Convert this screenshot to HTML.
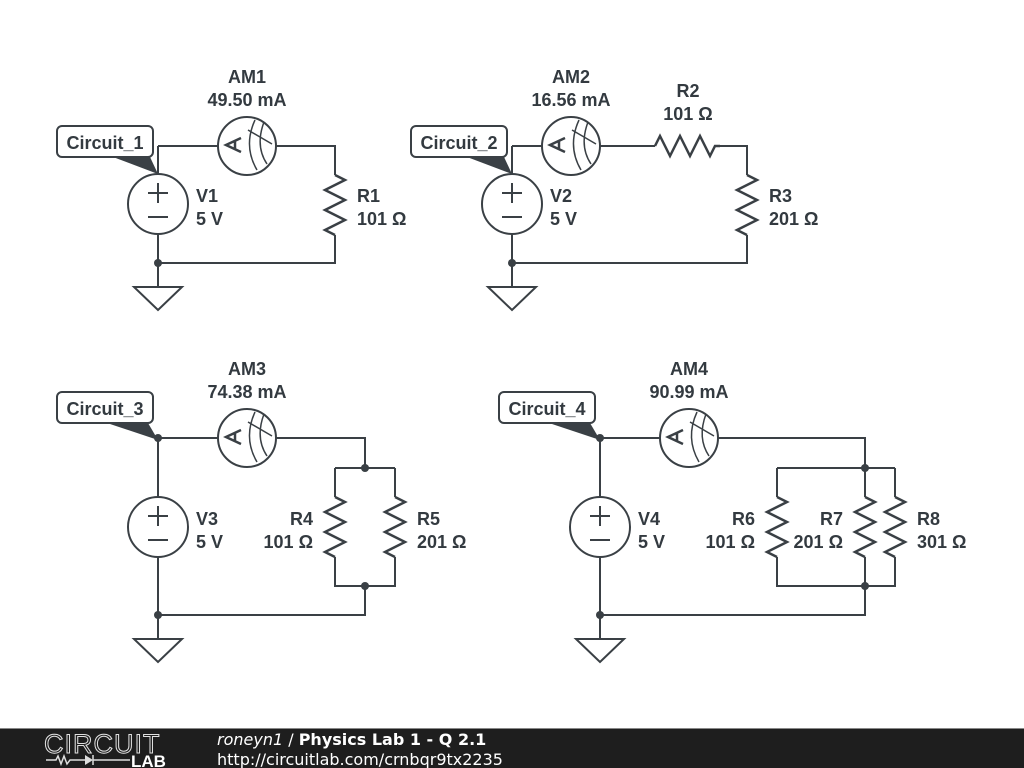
<!DOCTYPE html>
<html><head><meta charset="utf-8"><style>
html,body{margin:0;padding:0;background:#fff;}
svg{display:block;}
text{font-family:"Liberation Sans",Arial,sans-serif;font-weight:bold;font-size:18px;fill:#333a40;}
text.ft{font-family:"DejaVu Sans",sans-serif;font-size:15px;font-weight:normal;fill:#fff;}
</style></head><body>
<svg width="1024" height="768" viewBox="0 0 1024 768" xmlns="http://www.w3.org/2000/svg">
<defs>
<g id="am">
<circle cx="0" cy="0" r="29" fill="#fff" stroke="#3a4045" stroke-width="2"/>
<path d="M-6,-8 L-21,-1 L-6,6 M-12,-5 L-12,3" fill="none" stroke="#3a4045" stroke-width="2.5"/>
<path d="M8,-26 Q-4,0 10,24 M17,-24 Q8,0 20,18 M1,-16 L25,-2" fill="none" stroke="#3a4045" stroke-width="1.5"/>
</g>
<g id="src">
<circle cx="0" cy="0" r="30" fill="#fff" stroke="#3a4045" stroke-width="2"/>
<path d="M-10,-11 H10 M0,-21 V-1 M-10,13 H10" stroke="#3a4045" stroke-width="2"/>
</g>
<g id="gnd"><path d="M0,0 V24 M-24,24 H24 L0,47 Z" fill="none" stroke="#3a4045" stroke-width="2"/></g>
<path id="rv" d="M0,0 L10,5 L-10,15 L10,25 L-10,35 L10,45 L-10,55 L0,60" fill="none" stroke="#3a4045" stroke-width="2.5"/>
</defs>
<g fill="none" stroke="#3a4045" stroke-width="2">
<path d="M158,146 H335 V175 M335,235 V263 H158 V146"/>
<path d="M512,146 H655 M720,146 H747 V175 M747,235 V263 H512 V146"/>
<path d="M655,146 L660,136 L670,156 L680,136 L690,156 L700,136 L710,156 L715,146 L720,146" stroke-width="2.5"/>
<path d="M158,438 H365 V468 M335,468 H395 M335,468 V497 M395,468 V497 M335,557 V586 H395 V557 M365,586 V615 H158 V438"/>
<path d="M600,438 H865 V468 M777,468 H895 M777,468 V497 M865,468 V497 M895,468 V497 M777,557 V586 H895 V557 M865,557 V586 M865,586 V615 H600 V438"/>
</g>
<use href="#rv" x="335" y="175"/>
<use href="#rv" x="747" y="175"/>
<use href="#rv" x="335" y="497"/>
<use href="#rv" x="395" y="497"/>
<use href="#rv" x="777" y="497"/>
<use href="#rv" x="865" y="497"/>
<use href="#rv" x="895" y="497"/>
<use href="#am" x="247" y="146"/>
<use href="#am" x="571" y="146"/>
<use href="#am" x="247" y="438"/>
<use href="#am" x="689" y="438"/>
<use href="#src" x="158" y="204"/>
<use href="#src" x="512" y="204"/>
<use href="#src" x="158" y="527"/>
<use href="#src" x="600" y="527"/>
<use href="#gnd" x="158" y="263"/>
<use href="#gnd" x="512" y="263"/>
<use href="#gnd" x="158" y="615"/>
<use href="#gnd" x="600" y="615"/>
<g fill="#3a4045">
<circle cx="158" cy="263" r="4"/><circle cx="512" cy="263" r="4"/>
<circle cx="158" cy="438" r="4"/><circle cx="365" cy="468" r="4"/><circle cx="365" cy="586" r="4"/><circle cx="158" cy="615" r="4"/>
<circle cx="600" cy="438" r="4"/><circle cx="865" cy="468" r="4"/><circle cx="865" cy="586" r="4"/><circle cx="600" cy="615" r="4"/>
</g>
<g fill="#fff" stroke="#3a4045" stroke-width="2">
<rect x="57" y="126" width="96" height="31" rx="5"/>
<rect x="411" y="126" width="96" height="31" rx="5"/>
<rect x="57" y="392" width="96" height="31" rx="5"/>
<rect x="499" y="392" width="96" height="31" rx="5"/>
</g>
<g fill="#3a4045">
<path d="M113,157 L150,157 L158,174 Z"/>
<path d="M467,157 L504,157 L512,174 Z"/>
<path d="M107,423 L148,423 L158,440 Z"/>
<path d="M549,423 L590,423 L600,440 Z"/>
</g>
<text x="105" y="149" text-anchor="middle">Circuit_1</text>
<text x="459" y="149" text-anchor="middle">Circuit_2</text>
<text x="105" y="415" text-anchor="middle">Circuit_3</text>
<text x="547" y="415" text-anchor="middle">Circuit_4</text>
<g text-anchor="middle">
<text x="247" y="83">AM1</text><text x="247" y="106">49.50 mA</text>
<text x="571" y="83">AM2</text><text x="571" y="106">16.56 mA</text>
<text x="688" y="97">R2</text><text x="688" y="120">101 Ω</text>
<text x="247" y="375">AM3</text><text x="247" y="398">74.38 mA</text>
<text x="689" y="375">AM4</text><text x="689" y="398">90.99 mA</text>
</g>
<text x="196" y="202">V1</text><text x="196" y="225">5 V</text>
<text x="357" y="202">R1</text><text x="357" y="225">101 Ω</text>
<text x="550" y="202">V2</text><text x="550" y="225">5 V</text>
<text x="769" y="202">R3</text><text x="769" y="225">201 Ω</text>
<text x="196" y="525">V3</text><text x="196" y="548">5 V</text>
<g text-anchor="end">
<text x="313" y="525">R4</text><text x="313" y="548">101 Ω</text>
<text x="755" y="525">R6</text><text x="755" y="548">101 Ω</text>
<text x="843" y="525">R7</text><text x="843" y="548">201 Ω</text>
</g>
<text x="417" y="525">R5</text><text x="417" y="548">201 Ω</text>
<text x="638" y="525">V4</text><text x="638" y="548">5 V</text>
<text x="917" y="525">R8</text><text x="917" y="548">301 Ω</text>
<rect x="0" y="729" width="1024" height="39" fill="#1e1e1e"/>
<rect x="0" y="728" width="1024" height="1" fill="#888"/>
<text x="44" y="753" style="font-size:27px;font-weight:normal;fill:none;stroke:#e0e0e0;stroke-width:1;letter-spacing:1px">CIRCUIT</text>
<path d="M46,760 H56 L58,756 L61,764 L64,756 L67,764 L70,760 H80 M80,760 H85 M93,755 V765 M93,760 H130" stroke="#ddd" stroke-width="1.5" fill="none"/>
<path d="M85,755 V765 L93,760 Z" fill="#ddd"/>
<text x="131" y="767" style="font-size:17px;fill:#fff;font-weight:bold">LAB</text>
<text class="ft" x="217" y="745" style="font-size:16px"><tspan font-style="italic">roneyn1</tspan> / <tspan style="font-weight:bold">Physics Lab 1 - Q 2.1</tspan></text>
<text class="ft" x="217" y="765" style="font-size:16px">http://circuitlab.com/crnbqr9tx2235</text>
</svg>
</body></html>
